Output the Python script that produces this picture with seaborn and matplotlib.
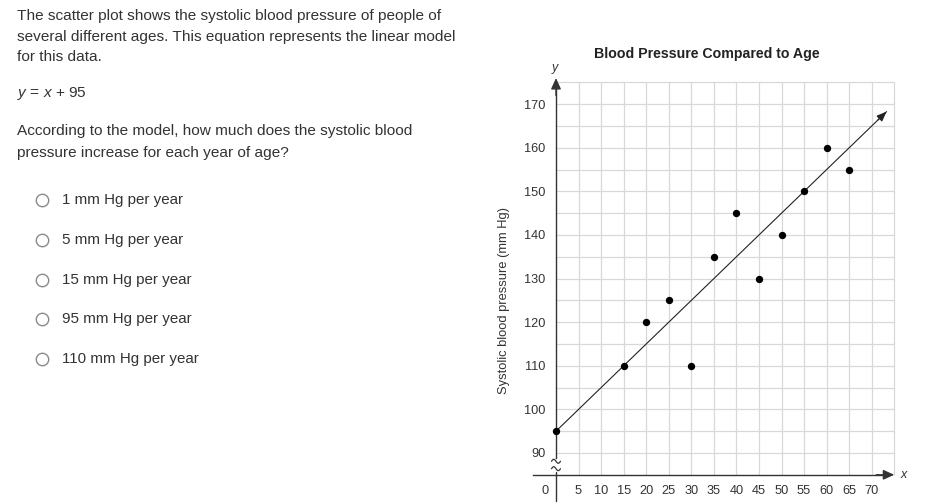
import matplotlib
matplotlib.use("Agg")
import matplotlib.pyplot as plt
import seaborn as sns
import numpy as np
import pandas as pd

# ---------------- data ----------------
ages = [0, 15, 20, 25, 30, 35, 40, 45, 50, 55, 60, 65]
bp = [95, 110, 120, 125, 110, 135, 145, 130, 140, 150, 160, 155]
model_slope = 1
model_intercept = 95
x_ticks = [5, 10, 15, 20, 25, 30, 35, 40, 45, 50, 55, 60, 65, 70]
y_ticks = [90, 100, 110, 120, 130, 140, 150, 160, 170]
title = "Blood Pressure Compared to Age"
ylabel = "Systolic blood pressure (mm Hg)"
question_lines = [
    "The scatter plot shows the systolic blood pressure of people of",
    "several different ages. This equation represents the linear model",
    "for this data.",
]
equation = "$y$ = $x$ + 95"
question2_lines = [
    "According to the model, how much does the systolic blood",
    "pressure increase for each year of age?",
]
options = ["1 mm Hg per year", "5 mm Hg per year", "15 mm Hg per year",
           "95 mm Hg per year", "110 mm Hg per year"]

df = pd.DataFrame({"age": ages, "bp": bp})

sns.set_theme(style="white")
plt.rcParams["font.family"] = ["Liberation Sans", "DejaVu Sans"]
plt.rcParams["mathtext.fontset"] = "custom"
plt.rcParams["mathtext.it"] = "Liberation Sans:italic"
plt.rcParams["mathtext.rm"] = "Liberation Sans"

W, H = 933, 504
fig = plt.figure(figsize=(W / 100, H / 100), dpi=100)
fig.patch.set_facecolor("white")

TXT = "#333333"

# ---------------- overlay for question text ----------------
ov = fig.add_axes([0, 0, 1, 1])
ov.set_xlim(0, W)
ov.set_ylim(H, 0)
ov.axis("off")
fs = 11.05
for i, line in enumerate(question_lines):
    ov.text(17, 16 + i * 20.7, line, fontsize=fs, color=TXT, va="center", ha="left")
ov.text(17, 93, equation, fontsize=fs, color=TXT, va="center", ha="left")
for i, line in enumerate(question2_lines):
    ov.text(17, 131 + i * 22, line, fontsize=fs, color=TXT, va="center", ha="left")
for i, opt in enumerate(options):
    yy = 200 + i * 39.8
    ov.scatter([42], [yy], s=80, facecolor="white", edgecolor="#8a8a8a", linewidth=1.0)
    ov.text(62, yy, opt, fontsize=10.9, color=TXT, va="center", ha="left")

ov.text(707, 54, title, fontsize=10.15, fontweight="bold", color="#222222",
        ha="center", va="center")
ov.text(504, 300, ylabel, fontsize=9.3, color=TXT, rotation=90,
        ha="center", va="center")

# ---------------- chart axes ----------------
x_lo, x_hi = -6, 78
y_lo, y_hi = 79, 179
px_per_x = 4.51
px_per_y = 4.36
x0_px = 556
y90_px = 453
left = (x0_px + px_per_x * x_lo) / W
width = px_per_x * (x_hi - x_lo) / W
bottom_px = y90_px + px_per_y * (90 - y_lo)
top_px = y90_px - px_per_y * (y_hi - 90)
ax = fig.add_axes([left, (H - bottom_px) / H, width, (bottom_px - top_px) / H])
ax.set_xlim(x_lo, x_hi)
ax.set_ylim(y_lo, y_hi)
ax.patch.set_alpha(0)

x_axis_y = 85
grid_top = 175
grid_right = 75
grid_x = list(range(5, grid_right + 1, 5))
grid_y = list(range(90, grid_top + 1, 5))
gcol = "#d8d8d8"
ax.vlines(grid_x, x_axis_y, grid_top, colors=gcol, linewidth=0.9, zorder=1)
ax.hlines(grid_y, 0, grid_right, colors=gcol, linewidth=0.9, zorder=1)

# spines as the axes
for s in ["top", "right"]:
    ax.spines[s].set_visible(False)
ax.spines["left"].set_position(("data", 0))
ax.spines["bottom"].set_position(("data", x_axis_y))
ax.spines["left"].set_bounds(88.9, 174)
ax.spines["bottom"].set_bounds(-5, 73)
for s in ["left", "bottom"]:
    ax.spines[s].set_color("#333333")
    ax.spines[s].set_linewidth(1.0)
    ax.spines[s].set_zorder(3)

ax.set_xticks(x_ticks)
ax.set_yticks(y_ticks)
ax.set_xticklabels([str(t) for t in x_ticks])
ax.set_yticklabels([str(t) for t in y_ticks])
ax.tick_params(axis="both", direction="inout", length=7, width=1.0,
               color="#333333", labelcolor=TXT, labelsize=9.2, pad=3.5)
ax.tick_params(axis="y", pad=4)

# lower y-axis segment below the break
ax.plot([0, 0], [y_lo, 85.7], color="#333333", linewidth=1.0, zorder=3, clip_on=False)
t = np.linspace(-1, 1, 40)
for yb in [88.1, 86.4]:
    ax.plot(t * 1.0, yb - 0.45 * np.sin(np.pi * t), color="#333333", linewidth=0.9,
            zorder=4, clip_on=False)

# axis arrows
ax.annotate("", xy=(0, 176), xytext=(0, 172),
            arrowprops=dict(arrowstyle="-|>,head_length=0.55,head_width=0.25",
                            color="#333333", lw=1.0, shrinkA=0, shrinkB=0))
ax.annotate("", xy=(75, x_axis_y), xytext=(71, x_axis_y),
            arrowprops=dict(arrowstyle="-|>,head_length=0.55,head_width=0.25",
                            color="#333333", lw=1.0, shrinkA=0, shrinkB=0))
ax.text(0, 178, "$y$", fontsize=9, color=TXT, ha="center", va="center")
ax.text(77.3, x_axis_y, "$x$", fontsize=9, color=TXT, ha="center", va="center",
        clip_on=False)
ax.text(-2.5, 81.2, "0", fontsize=9.2, color=TXT, ha="center", va="center")

# model line with arrow
x_end = 73.3
line_x = np.array([0, x_end])
line_df = pd.DataFrame({"age": line_x, "bp": model_slope * line_x + model_intercept})
sns.lineplot(data=line_df, x="age", y="bp", ax=ax, color="#222222", linewidth=0.8,
             zorder=4)
ax.annotate("", xy=(x_end, model_slope * x_end + model_intercept),
            xytext=(x_end - 2, model_slope * (x_end - 2) + model_intercept),
            arrowprops=dict(arrowstyle="-|>,head_length=0.5,head_width=0.2",
                            color="#222222", lw=0.8, shrinkA=0, shrinkB=0))

# points
sns.scatterplot(data=df, x="age", y="bp", ax=ax, color="black", s=28,
                edgecolor="black", linewidth=0, zorder=5, clip_on=False)

ax.set_xlabel("")
ax.set_ylabel("")

fig.savefig("out.png", dpi=100, facecolor="white")
